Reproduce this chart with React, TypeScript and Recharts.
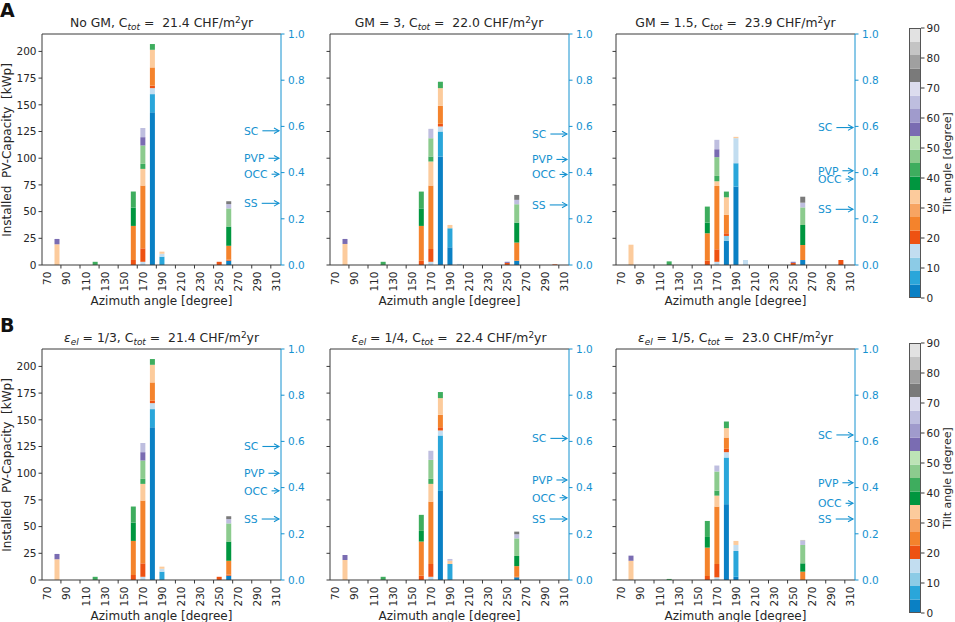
import React from 'react'
import { BarChart, Bar, XAxis, YAxis, ReferenceLine, ReferenceDot } from 'recharts'

// tab20c-like colours for the tilt bins (0..90 deg in 4.5 deg steps)
const tiltColors = [
  '#0a80c4', '#2aa6da', '#8ccbe6', '#c2ddf0',
  '#ee5212', '#f4832c', '#f7a462', '#fccb9c',
  '#00963f', '#3ead5e', '#8ccb8e', '#bde3b6',
  '#7a6cb2', '#a09bcc', '#bebedf', '#dcdcee',
  '#7a7a7a', '#a0a0a0', '#c4c4c4', '#e2e2e2',
]
const tiltEdges = [0, 4.5, 9, 13.5, 18, 22.5, 27, 31.5, 36, 40.5, 45, 49.5, 54, 58.5, 63, 67.5, 72, 76.5, 81, 85.5, 90]
const tiltTicks = [0, 10, 20, 30, 40, 50, 60, 70, 80, 90]

const azTicks = [70, 90, 110, 130, 150, 170, 190, 210, 230, 250, 270, 290, 310]
const capTicks = [0, 25, 50, 75, 100, 125, 150, 175, 200]
const ratioTicks = [0, 0.2, 0.4, 0.6, 0.8, 1.0]
const metricNames = ['SC', 'PVP', 'OCC', 'SS']

type Seg = [number, number] // [tilt bin, kWp]
type AzBar = { az: number; segs: Seg[] }

// 21.4 CHF/m2yr case (No GM and eps 1/3 give the same layout)
const baseBars: AzBar[] = [
  { az: 80, segs: [[7, 19.4], [12, 5.0]] },
  { az: 120, segs: [[9, 3]] },
  { az: 160, segs: [[4, 4.7], [5, 31.9], [8, 17.2], [9, 15]] },
  { az: 170, segs: [[3, 3], [4, 12.6], [5, 58.8], [7, 15.6], [9, 4.7], [10, 17.2], [12, 7.8], [14, 8.6]] },
  { az: 180, segs: [[0, 143], [1, 17], [3, 5.6], [4, 2.4], [5, 17], [7, 16.5], [9, 5.4]] },
  { az: 190, segs: [[1, 7.8], [3, 2.7], [7, 2]] },
  { az: 250, segs: [[4, 3]] },
  { az: 260, segs: [[0, 4], [4, 1], [5, 13], [8, 18], [10, 17], [14, 4], [16, 2.7]] },
]
const gm3Bars: AzBar[] = [
  { az: 80, segs: [[7, 19.7], [12, 4.7]] },
  { az: 120, segs: [[9, 3]] },
  { az: 160, segs: [[4, 4], [5, 32.6], [8, 16.4], [9, 15.75]] },
  { az: 170, segs: [[3, 3], [4, 12], [5, 59.4], [7, 22.5], [9, 4.7], [10, 17.1], [14, 8.8]] },
  { az: 180, segs: [[0, 101.6], [1, 23.4], [3, 4.7], [4, 2.5], [5, 16.8], [7, 16.6], [9, 6]] },
  { az: 190, segs: [[0, 16.6], [1, 17.8], [7, 3.1]] },
  { az: 200, segs: [[3, 1]] },
  { az: 250, segs: [[4, 2], [12, 1]] },
  { az: 260, segs: [[0, 4], [5, 17], [8, 18.7], [10, 17.2], [14, 4.1], [16, 4.6]] },
  { az: 300, segs: [[4, 0.6]] },
]
const gm15Bars: AzBar[] = [
  { az: 80, segs: [[7, 19]] },
  { az: 120, segs: [[9, 3.4]] },
  { az: 160, segs: [[4, 4], [5, 25.7], [8, 10], [9, 15]] },
  { az: 170, segs: [[3, 3], [4, 11.7], [5, 59.3], [7, 4.4], [9, 5], [10, 17.6], [12, 7.4], [14, 8.8]] },
  { az: 180, segs: [[0, 22.8], [2, 4.4], [4, 2.5], [5, 17.2], [7, 16.5], [9, 5.35]] },
  { az: 190, segs: [[0, 73.4], [1, 21.9], [3, 23.45], [7, 1.25]] },
  { az: 200, segs: [[3, 4.7]] },
  { az: 250, segs: [[4, 2], [12, 1]] },
  { az: 260, segs: [[0, 4.7], [5, 14], [8, 18.75], [10, 16.5], [14, 4.4], [16, 5.6]] },
  { az: 300, segs: [[4, 4.7]] },
]
const eps14Bars: AzBar[] = [
  { az: 80, segs: [[7, 18.75], [12, 4.65]] },
  { az: 120, segs: [[9, 3]] },
  { az: 160, segs: [[4, 4], [5, 32], [8, 10], [9, 15]] },
  { az: 170, segs: [[3, 3], [4, 12], [5, 58.4], [7, 16.6], [9, 4.7], [10, 17.8], [14, 8.5]] },
  { az: 180, segs: [[0, 83.4], [1, 51.9], [3, 4.7], [4, 3], [5, 11.7], [7, 15.6], [9, 5.7]] },
  { az: 190, segs: [[1, 15], [7, 3], [14, 1.7]] },
  { az: 260, segs: [[0, 2.5], [4, 0.5], [5, 10], [8, 9.5], [10, 16.5], [14, 3.8], [16, 2.5]] },
]
const eps15Bars: AzBar[] = [
  { az: 80, segs: [[7, 18], [12, 4.8]] },
  { az: 120, segs: [[9, 1]] },
  { az: 160, segs: [[4, 3.75], [5, 26.55], [8, 10], [9, 15]] },
  { az: 170, segs: [[3, 2.5], [4, 12.5], [5, 53.75], [7, 10.25], [9, 4.75], [10, 17.85], [14, 5.6]] },
  { az: 180, segs: [[0, 71], [1, 43.7], [3, 5], [4, 3.1], [5, 10.6], [7, 8.8], [9, 6.2]] },
  { az: 190, segs: [[0, 3], [1, 24.2], [3, 5.6], [7, 3.8]] },
  { az: 260, segs: [[5, 7.8], [8, 7.8], [10, 17.2], [14, 3.8], [18, 0.9]] },
]

// SC, PVP, OCC, SS on the right axis
const noGmMetrics = [0.581, 0.462, 0.393, 0.267]
const gm3Metrics = [0.567, 0.457, 0.392, 0.26]
const gm15Metrics = [0.595, 0.408, 0.372, 0.241]
const eps13Metrics = [0.578, 0.462, 0.386, 0.264]
const eps14Metrics = [0.613, 0.433, 0.356, 0.264]
const eps15Metrics = [0.628, 0.421, 0.332, 0.264]

const BLUE = '#1592d0'
const AX = '#3a3a3a'
const TXT = '#262626'
const FONT = '"DejaVu Sans", sans-serif'
const TICK_FS = 10.5
const LABEL_FS = 12

const PW = 239
const PH = 231
const colLefts = [42, 329.5, 616]
const rowTops = [34, 349]

const keyOf = (i: number) => `t${i}`

function buildRows(bars: AzBar[]) {
  return bars.map(({ az, segs }) => {
    const row: Record<string, number> = { az }
    tiltColors.forEach((_, i) => (row[keyOf(i)] = 0))
    segs.forEach(([bin, v]) => (row[keyOf(bin)] += v))
    return row
  })
}

const charW: Record<string, number> = { S: 0.635, C: 0.698, P: 0.603, V: 0.684, O: 0.787 }
const textW = (s: string, fs: number) => s.split('').reduce((w, c) => w + (charW[c] ?? 0.65) * fs, 0)

function MetricArrow(props: any) {
  const { cx, cy, name } = props
  const fs = 10.8
  const x0 = cx - 37
  const a0 = x0 + textW(name, fs) + 4
  const tip = cx - 2
  return (
    <g>
      <text x={x0} y={cy} dy="0.35em" fill={BLUE} fontSize={fs}>{name}</text>
      <line x1={a0} y1={cy} x2={tip} y2={cy} stroke={BLUE} strokeWidth={1.1} />
      <path d={`M${tip - 5},${cy - 2.8} L${tip},${cy} L${tip - 5},${cy + 2.8}`} fill="none" stroke={BLUE} strokeWidth={1.1} />
    </g>
  )
}

// rotated azimuth label; the small tick mark sits between labels as in the source figure
function RotTick(props: any) {
  const { x, y, payload, index } = props
  const axisY = y - 6.5
  const last = index === azTicks.length - 1
  return (
    <g>
      {!last && <line x1={x + 13.2} y1={axisY} x2={x + 13.2} y2={axisY + 3.5} stroke={AX} />}
      <text x={x} y={y} transform={`rotate(-90, ${x}, ${y})`} textAnchor="end" dy="0.35em" fill={TXT} fontSize={TICK_FS}>
        {payload.value}
      </text>
    </g>
  )
}

function Panel({ bars, metrics, title, left, top, first }: {
  bars: AzBar[]; metrics: number[]; title: React.ReactNode; left: number; top: number; first: boolean
}) {
  const rows = buildRows(bars)
  return (
    <>
      <div style={{ position: 'absolute', left, top: top - 19, width: PW, textAlign: 'center', fontSize: 12.4, lineHeight: '15px', color: TXT, whiteSpace: 'pre' }}>
        {title}
      </div>
      <div style={{ position: 'absolute', left: left - 40, top: top - 10 }}>
        <BarChart width={PW + 80} height={PH + 55} data={rows} margin={{ top: 10, right: 0, bottom: 0, left: 0 }}>
          <XAxis
            dataKey="az"
            type="number"
            domain={[64, 314.5]}
            ticks={azTicks}
            interval={0}
            allowDataOverflow
            tick={<RotTick />}
            tickLine={false}
            tickSize={3.5}
            tickMargin={3}
            height={45}
            stroke={AX}
            label={{ value: 'Azimuth angle [degree]', position: 'insideBottom', offset: 5, fill: TXT, fontSize: LABEL_FS }}
          />
          <YAxis
            yAxisId="left"
            domain={[0, 216.3]}
            ticks={capTicks}
            interval={0}
            width={40}
            tickSize={3.5}
            tickMargin={2}
            stroke={AX}
            tick={{ fill: TXT, fontSize: TICK_FS }}
            tickFormatter={(v) => (first ? String(v) : '')}
          />
          <YAxis
            yAxisId="right"
            orientation="right"
            type="number"
            domain={[0, 1]}
            allowDataOverflow
            ticks={ratioTicks}
            interval={0}
            width={40}
            tickSize={3.5}
            tickMargin={3.5}
            stroke={BLUE}
            tick={{ fill: BLUE, fontSize: TICK_FS }}
            tickFormatter={(v) => Number(v).toFixed(1)}
          />
          {tiltColors.map((c, i) => (
            <Bar key={i} yAxisId="left" dataKey={keyOf(i)} stackId="s" fill={c} barSize={5} isAnimationActive={false} />
          ))}
          <ReferenceLine yAxisId="right" y={1} stroke={AX} ifOverflow="extendDomain" />
          {metrics.map((m, i) => (
            <ReferenceDot
              key={i}
              yAxisId="right"
              x={314.5}
              y={m}
              r={0}
              ifOverflow="extendDomain"
              shape={(p: any) => <MetricArrow {...p} name={metricNames[i]} />}
            />
          ))}
        </BarChart>
      </div>
    </>
  )
}

function Colorbar({ top }: { top: number }) {
  const row: Record<string, number | string> = { name: 'tilt' }
  tiltColors.forEach((_, i) => (row[keyOf(i)] = tiltEdges[i + 1] - tiltEdges[i]))
  return (
    <>
      <div style={{ position: 'absolute', left: 909, top: top - 8 }}>
        <BarChart width={42} height={286} data={[row]} margin={{ top: 8, right: 0, bottom: 8, left: 0 }} barCategoryGap={0}>
          <XAxis dataKey="name" hide />
          <YAxis
            orientation="right"
            domain={[0, 90]}
            ticks={tiltTicks}
            interval={0}
            width={30}
            tickSize={3.5}
            tickMargin={2}
            axisLine={false}
            stroke={AX}
            tick={{ fill: TXT, fontSize: TICK_FS }}
          />
          {tiltColors.map((c, i) => (
            <Bar key={i} dataKey={keyOf(i)} stackId="c" fill={c} isAnimationActive={false} />
          ))}
        </BarChart>
      </div>
      <div style={{ position: 'absolute', left: 909, top, width: 12, height: 270, border: '1px solid #555', boxSizing: 'border-box' }} />
      <div style={{ position: 'absolute', left: 948 - 80, top: top + 135 - 7, width: 160, height: 14, lineHeight: '14px', textAlign: 'center', fontSize: 11, color: TXT, transform: 'rotate(-90deg)' }}>
        Tilt angle [degree]
      </div>
    </>
  )
}

const Ctot = () => (
  <>C<sub style={{ fontSize: '0.72em', fontStyle: 'italic', verticalAlign: '-0.3em', lineHeight: 0 }}>tot</sub></>
)
const M2 = () => (
  <>m<sup style={{ fontSize: '0.72em', verticalAlign: '0.45em', lineHeight: 0 }}>2</sup>yr</>
)
const Eps = () => (
  <><i>ε</i><sub style={{ fontSize: '0.72em', fontStyle: 'italic', verticalAlign: '-0.3em', lineHeight: 0 }}>el</sub></>
)

export default function App() {
  const panels = [
    { bars: baseBars, metrics: noGmMetrics, title: <>No GM, <Ctot /> =  21.4 CHF/<M2 /></> },
    { bars: gm3Bars, metrics: gm3Metrics, title: <>GM = 3, <Ctot /> =  22.0 CHF/<M2 /></> },
    { bars: gm15Bars, metrics: gm15Metrics, title: <>GM = 1.5, <Ctot /> =  23.9 CHF/<M2 /></> },
    { bars: baseBars, metrics: eps13Metrics, title: <><Eps /> = 1/3, <Ctot /> =  21.4 CHF/<M2 /></> },
    { bars: eps14Bars, metrics: eps14Metrics, title: <><Eps /> = 1/4, <Ctot /> =  22.4 CHF/<M2 /></> },
    { bars: eps15Bars, metrics: eps15Metrics, title: <><Eps /> = 1/5, <Ctot /> =  23.0 CHF/<M2 /></> },
  ]
  return (
    <div style={{ position: 'absolute', left: 0, top: 0, width: 955, height: 622, background: '#fff', fontFamily: FONT, overflow: 'hidden' }}>
      {panels.map((p, i) => (
        <Panel
          key={i}
          bars={p.bars}
          metrics={p.metrics}
          title={p.title}
          left={colLefts[i % 3]}
          top={rowTops[Math.floor(i / 3)]}
          first={i % 3 === 0}
        />
      ))}
      {rowTops.map((t, r) => (
        <div key={r}>
          <div style={{ position: 'absolute', left: 0, top: t - 34, fontSize: 19, fontWeight: 'bold', lineHeight: '20px', color: '#111' }}>
            {r === 0 ? 'A' : 'B'}
          </div>
          <div style={{ position: 'absolute', left: 7 - 120, top: t + PH / 2 - 7, width: 240, height: 14, lineHeight: '14px', textAlign: 'center', fontSize: LABEL_FS, color: TXT, transform: 'rotate(-90deg)', whiteSpace: 'pre' }}>
            Installed  PV-Capacity  [kWp]
          </div>
        </div>
      ))}
      <Colorbar top={28} />
      <Colorbar top={343} />
    </div>
  )
}
